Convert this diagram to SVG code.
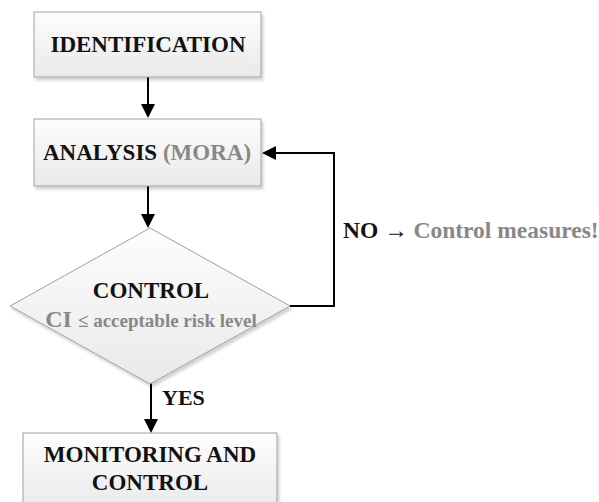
<svg xmlns="http://www.w3.org/2000/svg" width="599" height="502" viewBox="0 0 599 502">
<defs>
<linearGradient id="g" x1="0" y1="0" x2="0" y2="1">
<stop offset="0" stop-color="#fdfdfd"/>
<stop offset="1" stop-color="#e9e9e9"/>
</linearGradient>
<filter id="sh" x="-10%" y="-10%" width="130%" height="140%">
<feGaussianBlur in="SourceAlpha" stdDeviation="1.5"/>
<feOffset dx="2" dy="3"/>
<feComponentTransfer><feFuncA type="linear" slope="0.18"/></feComponentTransfer>
<feMerge><feMergeNode/><feMergeNode in="SourceGraphic"/></feMerge>
</filter>
</defs>
<style>
.box{fill:url(#g);stroke:#a0a0a0;stroke-width:1;filter:url(#sh)}
.t{font-family:"Liberation Serif","Times New Roman",serif;font-weight:bold;fill:#111;text-anchor:middle}
.s{text-anchor:start}
.gr{fill:#888}
.c{fill:none;stroke:#000;stroke-width:2}
</style>
<rect width="599" height="502" fill="#fff"/>
<g id="connectors">
<line class="c" x1="148" y1="77" x2="148" y2="104"/>
<path d="M141,104 L155,104 L148,118 Z"/>
<line class="c" x1="148" y1="186" x2="148" y2="214"/>
<path d="M141,214 L155,214 L148,228 Z"/>
<polyline class="c" points="290,306 334,306 334,153 276,153"/>
<path d="M276,146 L276,160 L262,153 Z"/>
<line class="c" x1="151" y1="383" x2="151" y2="419"/>
<path d="M144,419 L158,419 L151,433 Z"/>
<text class="t s" x="343" y="238" font-size="23.5">NO → <tspan class="gr">Control measures!</tspan></text>
<text class="t s" x="162" y="405" font-size="22">YES</text>
</g>
<g id="identification">
<rect class="box" x="34" y="12" width="227" height="65"/>
<text class="t" x="148" y="52" font-size="23">IDENTIFICATION</text>
</g>
<g id="analysis">
<rect class="box" x="34" y="119" width="227" height="67"/>
<text class="t" x="147" y="160" font-size="23">ANALYSIS <tspan class="gr">(MORA)</tspan></text>
</g>
<g id="control">
<polygon class="box" points="150,228 290,306 150,384 10,306"/>
<text class="t" x="151" y="298" font-size="23">CONTROL</text>
<text class="t gr" x="151" y="327" font-size="24">CI <tspan font-size="19">≤ acceptable risk level</tspan></text>
</g>
<g id="monitoring">
<rect class="box" x="23" y="433" width="254" height="80"/>
<text class="t" x="150" y="462" font-size="23">MONITORING AND</text>
<text class="t" x="150" y="490" font-size="23">CONTROL</text>
</g>
</svg>
